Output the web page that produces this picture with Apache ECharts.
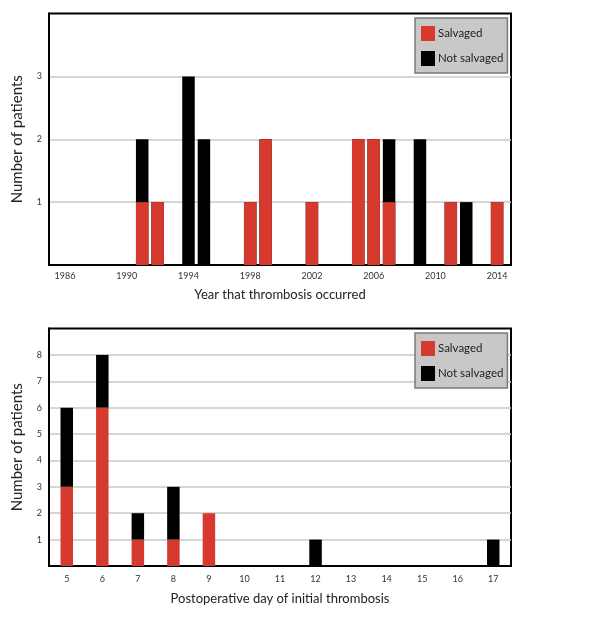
<!DOCTYPE html>
<html>
<head>
<meta charset="utf-8">
<script src="https://cdn.jsdelivr.net/npm/echarts@6/dist/echarts.min.js"></script>
<style>
html,body{margin:0;padding:0;background:#fff;}
#c{width:604px;height:618px;}
</style>
</head>
<body>
<div id="c"></div>
<script>
// Top chart: year of thrombosis
var years = [1991, 1992, 1994, 1995, 1998, 1999, 2002, 2005, 2006, 2007, 2009, 2011, 2012, 2014];
var yearSalvaged = [1, 1, 0, 0, 1, 2, 1, 2, 2, 1, 0, 1, 0, 1];
var yearNotSalvaged = [1, 0, 3, 2, 0, 0, 0, 0, 0, 1, 2, 0, 1, 0];
var yearTickLabels = [1986, 1990, 1994, 1998, 2002, 2006, 2010, 2014];

// Bottom chart: postoperative day
var days = ['5', '6', '7', '8', '9', '10', '11', '12', '13', '14', '15', '16', '17'];
var daySalvaged = [3, 6, 1, 1, 2, 0, 0, 0, 0, 0, 0, 0, 0];
var dayNotSalvaged = [3, 2, 1, 2, 0, 0, 0, 1, 0, 0, 0, 0, 1];

var RED = '#d63a2f';
var BLACK = '#000000';
var FONT = 'Lato';

var chart = echarts.init(document.getElementById('c'), null, {renderer: 'canvas'});

function legendCfg(top) {
  return {
    left: 415, top: top, orient: 'vertical',
    backgroundColor: '#c8c8c8', borderColor: '#7a7a7a', borderWidth: 1.5,
    padding: [8, 4, 7, 6], itemGap: 10, itemWidth: 14, itemHeight: 15,
    icon: 'rect',
    textStyle: {fontFamily: FONT, fontSize: 11.5, color: '#222', padding: [0, 0, 0, -2]},
    data: ['Salvaged', 'Not salvaged']
  };
}

function yAxisCfg(idx, max) {
  return {
    type: 'value', gridIndex: idx, min: 0, max: max, interval: 1,
    name: 'Number of patients', nameLocation: 'middle', nameGap: 24,
    nameTextStyle: {fontFamily: FONT, fontSize: 15, color: '#222'},
    axisLine: {show: true, lineStyle: {color: '#000', width: 2}},
    axisTick: {show: false},
    axisLabel: {fontFamily: FONT, fontSize: 9, color: '#333', margin: 7,
      formatter: function (v) { return (v === 0 || v === max) ? '' : String(v); }},
    splitLine: {show: true, showMinLine: false, showMaxLine: false, lineStyle: {color: '#c8c8c8', width: 1.5}}
  };
}

// Top chart: stacked total drawn in black, salvaged portion drawn over it in red
var topTotalData = years.map(function (y, i) { return [y, yearSalvaged[i] + yearNotSalvaged[i]]; });
var topSalvagedData = years.map(function (y, i) { return [y, yearSalvaged[i]]; });

var option = {
  backgroundColor: '#fff',
  animation: false,
  legend: [legendCfg(18), legendCfg(333)],
  grid: [
    {left: 49, top: 13.5, width: 462, height: 251.5, show: true, borderColor: '#000', borderWidth: 2, backgroundColor: 'transparent'},
    {left: 49, top: 328.5, width: 462, height: 237.5, show: true, borderColor: '#000', borderWidth: 2, backgroundColor: 'transparent'}
  ],
  xAxis: [
    {
      type: 'value', gridIndex: 0, min: 1984.96, max: 2014.9,
      name: 'Year that thrombosis occurred', nameLocation: 'middle', nameGap: 23,
      nameTextStyle: {fontFamily: FONT, fontSize: 13, color: '#222'},
      axisLine: {show: true, lineStyle: {color: '#000', width: 2}},
      axisTick: {show: false},
      splitLine: {show: false},
      axisLabel: {customValues: yearTickLabels, fontFamily: FONT, fontSize: 9, color: '#333', margin: 7,
        formatter: function (v) { return String(Math.round(v)); }}
    },
    {
      type: 'category', gridIndex: 1, data: days, boundaryGap: true,
      name: 'Postoperative day of initial thrombosis', nameLocation: 'middle', nameGap: 26,
      nameTextStyle: {fontFamily: FONT, fontSize: 13, color: '#222'},
      axisLine: {show: true, lineStyle: {color: '#000', width: 2}},
      axisTick: {show: false},
      splitLine: {show: false},
      axisLabel: {fontFamily: FONT, fontSize: 9, color: '#333', margin: 9, interval: 0}
    }
  ],
  yAxis: [yAxisCfg(0, 4), yAxisCfg(1, 9)],
  series: [
    {name: 'Not salvaged', type: 'bar', xAxisIndex: 0, yAxisIndex: 0, barWidth: 12.5, barGap: '-100%',
      itemStyle: {color: BLACK}, data: topTotalData, z: 2},
    {name: 'Salvaged', type: 'bar', xAxisIndex: 0, yAxisIndex: 0, barWidth: 12.5, barGap: '-100%',
      itemStyle: {color: RED}, data: topSalvagedData, z: 3},
    {name: 'Salvaged', type: 'bar', xAxisIndex: 1, yAxisIndex: 1, stack: 'bottom', barWidth: 12.5,
      itemStyle: {color: RED}, data: daySalvaged},
    {name: 'Not salvaged', type: 'bar', xAxisIndex: 1, yAxisIndex: 1, stack: 'bottom', barWidth: 12.5,
      itemStyle: {color: BLACK}, data: dayNotSalvaged}
  ]
};
chart.setOption(option);
</script>
</body>
</html>
